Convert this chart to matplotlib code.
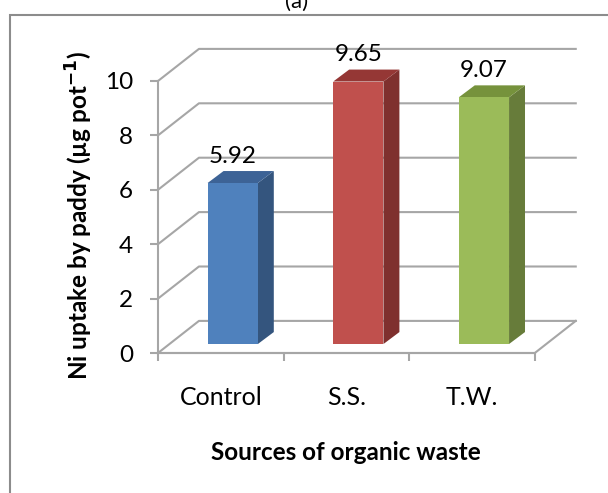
import numpy as np
import matplotlib.pyplot as plt
from matplotlib.patches import Polygon, Rectangle

plt.rcParams["font.family"] = ["Lato", "DejaVu Sans"]

# data
sources = ["Control", "S.S.", "T.W."]
ni_uptake = [5.92, 9.65, 9.07]
y_ticks = [0, 2, 4, 6, 8, 10]

front_colors = ["#4F81BD", "#C0504D", "#9BBB59"]
side_colors = ["#34557E", "#7F302E", "#677C3A"]
top_colors = ["#3D6396", "#953735", "#76923C"]

# pseudo-3d geometry, in data units (categories / value)
wall_dx, wall_dy = 0.326, 1.18      # depth of the chart box
bar_ox, bar_oy = 0.095, 0.33        # bar placement inside the box
bar_dx, bar_dy = 0.127, 0.44        # depth of each bar
bar_w = 0.40
grid_color = "#A6A6A6"

fig = plt.figure(figsize=(6.08, 4.93), dpi=100)

# outer chart border
fig.patches.append(Rectangle((10 / 608, -0.05), 1.0, 1 - 15 / 493 + 0.05,
                             transform=fig.transFigure, fill=False,
                             edgecolor="#8C8C8C", linewidth=1.5))
fig.text(297 / 608, 1 - 2 / 493, "(a)", ha="center", va="center", fontsize=16)

ax = fig.add_axes([158 / 608, 140 / 493, 424 / 608, 306 / 493])
ax.set_xlim(0, 424 / 125.6)
ax.set_ylim(0, 306 / 27.2)
ax.patch.set_visible(False)
n = len(sources)

# walls: diagonals on the left wall plus horizontal lines on the back wall
for v in y_ticks:
    ax.plot([0, wall_dx, n + wall_dx], [v, v + wall_dy, v + wall_dy],
            color=grid_color, lw=1.5, zorder=1, clip_on=False)
# floor edges
ax.plot([0, n, n + wall_dx], [0, 0, wall_dy], color=grid_color, lw=1.5,
        zorder=1, clip_on=False)

for i, v in enumerate(ni_uptake):
    x0 = i + 0.5 - bar_w / 2 + bar_ox
    x1 = x0 + bar_w
    y0 = bar_oy
    y1 = bar_oy + v
    ax.add_patch(Polygon([(x1, y0), (x1 + bar_dx, y0 + bar_dy),
                          (x1 + bar_dx, y1 + bar_dy), (x1, y1)],
                         closed=True, facecolor=side_colors[i], lw=0, zorder=3))
    ax.add_patch(Polygon([(x0, y1), (x0 + bar_dx, y1 + bar_dy),
                          (x1 + bar_dx, y1 + bar_dy), (x1, y1)],
                         closed=True, facecolor=top_colors[i], lw=0, zorder=3))
    ax.add_patch(Rectangle((x0, y0), bar_w, v, facecolor=front_colors[i],
                           lw=0, zorder=4))
    ax.text(x0 + bar_w / 2, y1 + bar_dy + 0.15, f"{v:.2f}",
            ha="center", va="bottom", fontsize=17.5, zorder=5)

for side in ["top", "right"]:
    ax.spines[side].set_visible(False)
ax.spines["left"].set_bounds(0, 10)
ax.spines["bottom"].set_bounds(0, n)
for side in ["left", "bottom"]:
    ax.spines[side].set_color(grid_color)
    ax.spines[side].set_linewidth(1.5)

ax.set_yticks(y_ticks)
ax.tick_params(axis="y", length=6, width=1.5, color=grid_color, labelsize=17.5, pad=12)
ax.set_xticks(np.arange(n + 1))
ax.set_xticklabels([])
ax.set_xticks(np.arange(n) + 0.5, minor=True)
ax.set_xticklabels(sources, minor=True, fontsize=18)
ax.tick_params(axis="x", which="major", length=6, width=1.5, color=grid_color)
ax.tick_params(axis="x", which="minor", length=0, pad=24)

ax.set_xlabel("Sources of organic waste", fontsize=17.5, fontweight="bold")
ax.xaxis.set_label_coords((346 - 158) / 424, -(452 - 353) / 306, transform=ax.transAxes)
ax.set_ylabel("Ni uptake by paddy (\u00b5g pot$^{\\mathbf{-1}}$)", fontsize=17.5,
              fontweight="bold")
ax.yaxis.set_label_coords(-(158 - 79) / 424, (353 - 216) / 306, transform=ax.transAxes)
ax.yaxis.label.set_va("center")
ax.xaxis.label.set_va("center")

fig.savefig("out.png", dpi=100)
